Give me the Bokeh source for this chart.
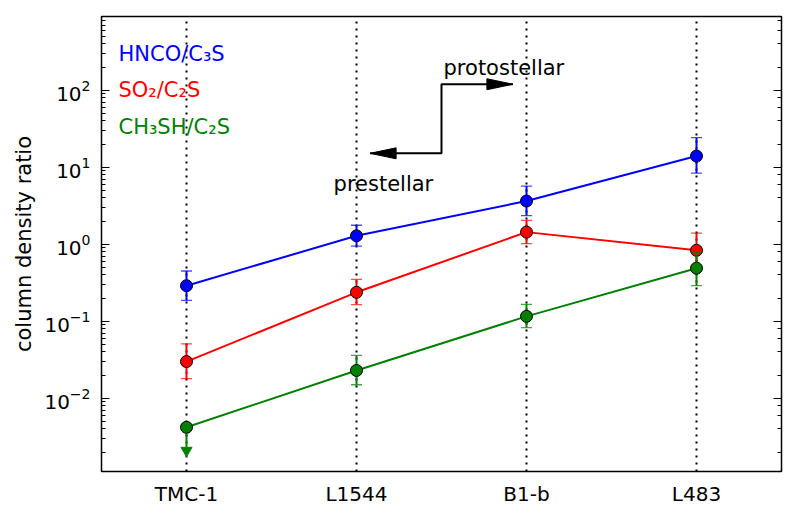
import math
from bokeh.plotting import figure
from bokeh.models import Range1d, LogAxis, FixedTicker, Label, CustomJSTickFormatter
from bokeh.embed import file_html
from bokeh.resources import INLINE

# ---------------- data ----------------
sources = ["TMC-1", "L1544", "B1-b", "L483"]
xpos = [0, 1, 2, 3]

hnco = [0.29, 1.29, 3.65, 14.0]
hnco_lo = [0.187, 0.95, 2.36, 8.4]
hnco_hi = [0.45, 1.77, 5.7, 24.3]

so2 = [0.030, 0.238, 1.44, 0.836]
so2_lo = [0.018, 0.165, 1.02, 0.52]
so2_hi = [0.051, 0.35, 2.05, 1.40]

ch3sh = [0.0042, 0.023, 0.116, 0.49]
ch3sh_lo = [0.015, 0.083, 0.29]      # L1544, B1-b, L483
ch3sh_hi = [0.036, 0.166, 0.78]
ch3sh_limit_end = 0.0021              # TMC-1 is an upper limit (arrow down)

legend_labels = ["HNCO/C\u2083S", "SO\u2082/C\u2082S", "CH\u2083SH/C\u2082S"]
colors = ["#0000ff", "#ff0000", "#008000"]

# annotation anchors (data coordinates)
arrow_path_x = [1.08, 1.50, 1.50, 1.92]
arrow_path_y = [15.2, 15.2, 120.0, 120.0]

YMIN, YMAX = 1.12e-3, 910.0
FONT = "DejaVu Sans"

W, H = 800, 514
BL, BR, BT, BB = 101, 19, 16, 43

p = figure(width=W, height=H, x_range=Range1d(-0.5, 3.5), y_range=Range1d(YMIN, YMAX),
           y_axis_type="log", output_backend="svg", toolbar_location=None,
           min_border_left=BL, min_border_right=BR, min_border_top=BT, min_border_bottom=BB)
p.background_fill_color = "white"
p.border_fill_color = "white"
p.outline_line_color = "black"
p.outline_line_width = 1.5

# grid: dotted verticals at categories
p.ygrid.grid_line_color = None
p.xgrid.ticker = FixedTicker(ticks=xpos)
p.xgrid.grid_line_color = "black"
p.xgrid.grid_line_dash = "2 5"
p.xgrid.grid_line_width = 2

# x axis
p.xaxis.ticker = FixedTicker(ticks=xpos)
p.xaxis.major_label_overrides = {x: s for x, s in zip(xpos, sources)}
p.xaxis.major_tick_in = 0
p.xaxis.major_tick_out = 0
p.xaxis.minor_tick_line_color = None
p.xaxis.axis_line_color = None
p.xaxis.major_label_standoff = 10
p.xaxis.major_label_text_font = FONT
p.xaxis.major_label_text_font_size = "20px"
p.xaxis.major_label_text_color = "black"

# y axis
ya = p.yaxis[0]
ya.axis_line_color = None
ya.major_tick_in = 8
ya.major_tick_out = 0
ya.minor_tick_in = 4
ya.minor_tick_out = 0
ya.major_tick_line_color = "black"
ya.minor_tick_line_color = "black"
ya.major_label_standoff = 11
ya.major_label_text_font = FONT
ya.major_label_text_font_size = "20px"
ya.major_label_text_color = "black"
ya.axis_label = "column density ratio"
ya.axis_label_text_font = FONT
ya.axis_label_text_font_size = "21px"
ya.axis_label_text_font_style = "normal"
ya.axis_label_text_color = "black"
ya.axis_label_standoff = 5

# mirrored ticks on the right (no labels)
ra = LogAxis(axis_line_color=None, major_tick_in=8, major_tick_out=0,
             minor_tick_in=4, minor_tick_out=0, major_label_standoff=0,
             formatter=CustomJSTickFormatter(code="return ''"),
             major_label_text_font_size="2px")
p.add_layout(ra, "right")


def errbars(x, lo, hi, color):
    p.segment(x0=x, y0=lo, x1=x, y1=hi, line_color=color, line_width=2)
    p.scatter(x, hi, marker="dash", size=11, line_color=color, line_width=1.3, line_alpha=0.7)
    p.scatter(x, lo, marker="dash", size=11, line_color=color, line_width=1.3, line_alpha=0.7)


series = [(hnco, hnco_lo, hnco_hi, xpos, xpos),
          (so2, so2_lo, so2_hi, xpos, xpos),
          (ch3sh, ch3sh_lo, ch3sh_hi, xpos[1:], xpos)]

for (vals, lo, hi, xe, xv), c in zip(series, colors):
    errbars(xe, lo, hi, c)
    if c == colors[2]:
        # upper limit at TMC-1
        p.segment(x0=[xpos[0]], y0=[vals[0]], x1=[xpos[0]], y1=[ch3sh_limit_end],
                  line_color=c, line_width=2)
        p.scatter([xpos[0]], [ch3sh_limit_end], marker="inverted_triangle", size=11,
                  fill_color=c, line_color=c)
    p.line(xv, vals, line_color=c, line_width=2)
    p.scatter(xv, vals, size=12, fill_color=c, line_color="black", line_width=1)

# step arrow "prestellar" <-> "protostellar"
p.line(arrow_path_x, arrow_path_y, line_color="black", line_width=2)
frame_w = W - BL - BR
frame_h = H - BT - BB
px_x = frame_w / 4.0
px_dec = frame_h / math.log10(YMAX / YMIN)
head_len = 26 / px_x
head_half = 10 ** (5.5 / px_dec)
tipL = (arrow_path_x[0], arrow_path_y[0])
tipR = (arrow_path_x[-1], arrow_path_y[-1])
p.patch([tipL[0], tipL[0] + head_len, tipL[0] + head_len],
        [tipL[1], tipL[1] * head_half, tipL[1] / head_half],
        fill_color="black", line_color="black")
p.patch([tipR[0], tipR[0] - head_len, tipR[0] - head_len],
        [tipR[1], tipR[1] * head_half, tipR[1] / head_half],
        fill_color="black", line_color="black")

p.add_layout(Label(x=0.865, y=6.14, text="prestellar", text_font=FONT,
                   text_font_size="21px", text_color="black", text_baseline="alphabetic"))
p.add_layout(Label(x=1.512, y=197.0, text="protostellar", text_font=FONT,
                   text_font_size="21px", text_color="black", text_baseline="alphabetic"))

legend_y = [293.0, 100.0, 33.0]
for t, c, yy in zip(legend_labels, colors, legend_y):
    p.add_layout(Label(x=-0.4, y=yy, text=t, text_font=FONT, text_font_size="21px",
                       text_color=c, text_baseline="alphabetic"))

open("out.html", "w").write(file_html(p, INLINE))
